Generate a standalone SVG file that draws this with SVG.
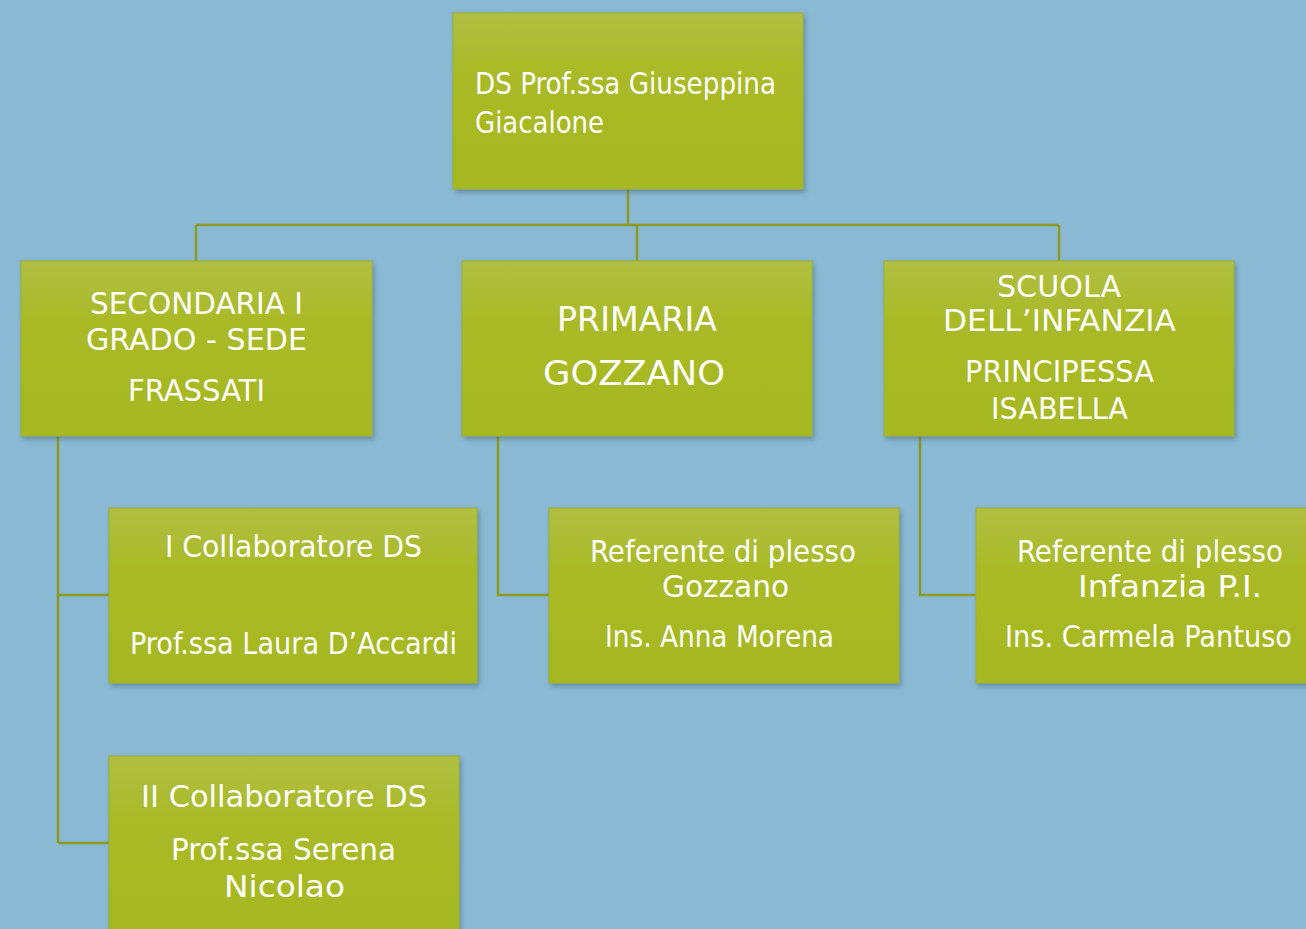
<svg xmlns="http://www.w3.org/2000/svg" width="1306" height="929" viewBox="0 0 1306 929">
<defs>
<linearGradient id="g" x1="0" y1="0" x2="0" y2="1">
<stop offset="0" stop-color="#B1BF42"/>
<stop offset="0.35" stop-color="#A9BA26"/>
<stop offset="1" stop-color="#A6B820"/>
</linearGradient>
<filter id="sh" x="-10%" y="-10%" width="125%" height="130%">
<feDropShadow dx="2" dy="3" stdDeviation="2.5" flood-color="#3a5a6a" flood-opacity="0.45"/>
</filter>
</defs>
<style>
.box{fill:url(#g);stroke:#9FB02A;stroke-width:1;filter:url(#sh)}
.t{font-family:"DejaVu Sans Condensed","DejaVu Sans",sans-serif;fill:#FFFFFF}
.c{fill:none;stroke:#8C9A22;stroke-width:2.5}
</style>
<rect width="1306" height="929" fill="#8AB9D4"/>
<g id="connectors">
<path class="c" d="M628 189V225M196 225H1059M196 225V261M637 225V261M1059 225V261"/>
<path class="c" d="M58 436V843M58 595H109M58 843H109"/>
<path class="c" d="M498 436V595H549"/>
<path class="c" d="M920 436V595H976"/>
</g>
<g id="n-ds">
<rect class="box" x="453" y="13" width="350" height="176"/>
<text class="t" font-size="30"><tspan x="475" y="94" textLength="301" lengthAdjust="spacingAndGlyphs">DS Prof.ssa  Giuseppina</tspan><tspan x="475" y="133" textLength="129" lengthAdjust="spacingAndGlyphs">Giacalone</tspan></text>
</g>
<g id="n-secondaria">
<rect class="box" x="21" y="261" width="351" height="175"/>
<text class="t" font-size="30"><tspan x="90" y="314" textLength="213" lengthAdjust="spacingAndGlyphs">SECONDARIA I</tspan><tspan x="86" y="350" textLength="221" lengthAdjust="spacingAndGlyphs">GRADO  - SEDE</tspan><tspan x="128" y="401" textLength="137" lengthAdjust="spacingAndGlyphs">FRASSATI</tspan></text>
</g>
<g id="n-primaria">
<rect class="box" x="462" y="261" width="350" height="175"/>
<text class="t" font-size="34"><tspan x="557" y="331" textLength="160" lengthAdjust="spacingAndGlyphs">PRIMARIA</tspan><tspan x="543" y="385" textLength="182" lengthAdjust="spacingAndGlyphs">GOZZANO</tspan></text>
</g>
<g id="n-infanzia">
<rect class="box" x="884" y="261" width="350" height="175"/>
<text class="t" font-size="30"><tspan x="997" y="297" textLength="124" lengthAdjust="spacingAndGlyphs">SCUOLA</tspan><tspan x="943" y="331" textLength="233" lengthAdjust="spacingAndGlyphs">DELL’INFANZIA</tspan><tspan x="965" y="382" textLength="189" lengthAdjust="spacingAndGlyphs">PRINCIPESSA</tspan><tspan x="991" y="419" textLength="137" lengthAdjust="spacingAndGlyphs">ISABELLA</tspan></text>
</g>
<g id="n-collab1">
<rect class="box" x="109" y="508" width="368" height="175"/>
<text class="t" font-size="30"><tspan x="165" y="557" textLength="257" lengthAdjust="spacingAndGlyphs">I Collaboratore  DS</tspan><tspan x="130" y="654" textLength="327" lengthAdjust="spacingAndGlyphs">Prof.ssa  Laura  D’Accardi</tspan></text>
</g>
<g id="n-ref-gozzano">
<rect class="box" x="549" y="508" width="350" height="175"/>
<text class="t" font-size="30"><tspan x="590" y="562" textLength="266" lengthAdjust="spacingAndGlyphs">Referente di plesso</tspan><tspan x="662" y="597" textLength="127" lengthAdjust="spacingAndGlyphs">Gozzano</tspan><tspan x="605" y="647" textLength="229" lengthAdjust="spacingAndGlyphs">Ins. Anna Morena</tspan></text>
</g>
<g id="n-ref-infanzia">
<rect class="box" x="976" y="508" width="340" height="175"/>
<text class="t" font-size="30"><tspan x="1017" y="562" textLength="266" lengthAdjust="spacingAndGlyphs">Referente di plesso</tspan><tspan x="1078" y="597" textLength="184" lengthAdjust="spacingAndGlyphs">Infanzia P.I.</tspan><tspan x="1005" y="647" textLength="287" lengthAdjust="spacingAndGlyphs">Ins. Carmela Pantuso</tspan></text>
</g>
<g id="n-collab2">
<rect class="box" x="109" y="756" width="350" height="190"/>
<text class="t" font-size="30"><tspan x="141" y="807" textLength="286" lengthAdjust="spacingAndGlyphs">II Collaboratore  DS</tspan><tspan x="171" y="860" textLength="225" lengthAdjust="spacingAndGlyphs">Prof.ssa Serena</tspan><tspan x="224" y="897" textLength="121" lengthAdjust="spacingAndGlyphs">Nicolao</tspan></text>
</g>
</svg>
